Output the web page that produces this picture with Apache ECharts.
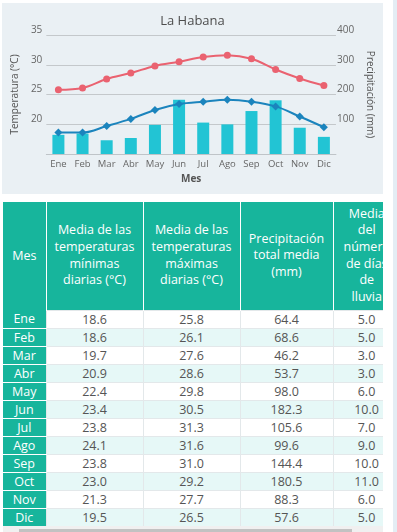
<!DOCTYPE html>
<html>
<head>
<meta charset="utf-8">
<script src="https://cdn.jsdelivr.net/npm/echarts@6/dist/echarts.min.js"></script>
<style>
  html, body { margin: 0; padding: 0; background: #ffffff; width: 397px; height: 532px; overflow: hidden; font-family: "Open Sans", sans-serif; }
  #chart { position: absolute; left: 2px; top: 3px; width: 381px; height: 191px; background: #eaf0f4; }
  #wrap { position: absolute; left: 3px; top: 202px; width: 380px; height: 324px; overflow: hidden; }
  table { border-collapse: collapse; table-layout: fixed; width: 397px; }
  th { background: #17b59c; color: #ffffff; font-weight: normal; font-size: 12.5px; line-height: 16.7px; padding: 3px 2px; border-left: 1px solid #ffffff; height: 108px; box-sizing: border-box; white-space: nowrap; }
  th:first-child { border-left: none; }
  td { font-size: 12.5px; line-height: 17px; height: 18px; padding: 0; text-align: center; color: #555; border: 1px solid #e3e8ea; box-sizing: border-box; }
  td.m { background: #17b59c; color: #fff; border: none; border-bottom: 1px solid #fff; }
  tr.odd td.v { background: #ffffff; }
  tr.even td.v { background: #e6f8f7; }
  #track { position: absolute; left: 3px; top: 526px; width: 380px; height: 6px; background: #f0f0f0; }
  #thumb { position: absolute; left: 19px; top: 529px; width: 333px; height: 3px; background: #c2c2c2; }
  #strip { position: absolute; left: 393px; top: 0; width: 4px; height: 532px; background: #e4edf4; }
</style>
</head>
<body>
<div id="chart"></div>
<div id="wrap"><table id="tbl"></table></div>
<div id="track"></div>
<div id="thumb"></div>
<div id="strip"></div>
<script>
const months = ['Ene','Feb','Mar','Abr','May','Jun','Jul','Ago','Sep','Oct','Nov','Dic'];
const minTemp = [18.6,18.6,19.7,20.9,22.4,23.4,23.8,24.1,23.8,23.0,21.3,19.5];
const maxTemp = [25.8,26.1,27.6,28.6,29.8,30.5,31.3,31.6,31.0,29.2,27.7,26.5];
const precip = [64.4,68.6,46.2,53.7,98.0,182.3,105.6,99.6,144.4,180.5,88.3,57.6];
const rainDays = [5.0,5.0,3.0,3.0,6.0,10.0,7.0,9.0,10.0,11.0,6.0,5.0];
const headers = [
  ['Mes'],
  ['Media de las','temperaturas','mínimas','diarias (°C)'],
  ['Media de las','temperaturas','máximas','diarias (°C)'],
  ['Precipitación','total media','(mm)'],
  ['Media','del','número','de días','de','lluvia']
];
const colWidths = [43, 97, 97, 93, 67];

// Table
const tbl = document.getElementById('tbl');
const cg = document.createElement('colgroup');
colWidths.forEach(w => { const c = document.createElement('col'); c.style.width = w + 'px'; cg.appendChild(c); });
tbl.appendChild(cg);
const hr = document.createElement('tr');
headers.forEach(h => { const th = document.createElement('th'); th.innerHTML = h.join('<br>'); hr.appendChild(th); });
tbl.appendChild(hr);
months.forEach((m, i) => {
  const tr = document.createElement('tr');
  tr.className = i % 2 === 0 ? 'odd' : 'even';
  const cells = [m, minTemp[i].toFixed(1), maxTemp[i].toFixed(1), precip[i].toFixed(1), rainDays[i].toFixed(1)];
  cells.forEach((v, j) => {
    const td = document.createElement('td');
    td.textContent = v;
    td.className = j === 0 ? 'm' : 'v';
    tr.appendChild(td);
  });
  tbl.appendChild(tr);
});

// Chart
const font = '"Open Sans", sans-serif';
const chart = echarts.init(document.getElementById('chart'), null, { renderer: 'canvas' });
chart.setOption({
  backgroundColor: '#eaf0f4',
  animation: false,
  title: {
    text: 'La Habana', left: 'center', top: 7,
    textStyle: { fontSize: 13, fontWeight: 'normal', color: '#4d4d4d', fontFamily: font }
  },
  grid: { left: 29, right: 31, top: 32, bottom: 40 },
  xAxis: {
    type: 'category', data: months,
    name: 'Mes', nameLocation: 'middle', nameGap: 17,
    nameTextStyle: { fontSize: 10, fontWeight: 'bold', color: '#555', fontFamily: font },
    axisLine: { lineStyle: { color: '#bfc4c8', width: 1 } },
    axisTick: { length: 5, lineStyle: { color: '#bfc4c8' } },
    axisLabel: { interval: 0, fontSize: 9.5, color: '#666', margin: 5, fontFamily: font }
  },
  yAxis: [
    {
      type: 'value', min: 15, max: 35, interval: 5,
      name: 'Temperatura (°C)', nameLocation: 'middle', nameGap: 17,
      nameTextStyle: { fontSize: 10, color: '#555', fontFamily: font },
      axisLine: { show: false }, axisTick: { show: false },
      axisLabel: { showMinLabel: false, fontSize: 10, color: '#666', margin: 4, verticalAlign: 'bottom', fontFamily: font },
      splitLine: { lineStyle: { color: '#c4c8cb', width: 1 } }
    },
    {
      type: 'value', min: 0, max: 400, interval: 100, position: 'right',
      name: 'Precipitación (mm)', nameLocation: 'middle', nameGap: 23, nameRotate: -90,
      nameTextStyle: { fontSize: 10, color: '#555', fontFamily: font },
      axisLine: { show: false }, axisTick: { show: false },
      axisLabel: { showMinLabel: false, fontSize: 10, color: '#666', margin: 1, verticalAlign: 'bottom', fontFamily: font },
      splitLine: { show: false }
    }
  ],
  series: [
    {
      name: 'Precipitación', type: 'bar', yAxisIndex: 1, data: precip, barWidth: 12,
      itemStyle: { color: '#22c4d4' }, z: 1
    },
    {
      name: 'Mínima', type: 'line', yAxisIndex: 0, data: minTemp, smooth: 0.35,
      symbol: 'diamond', symbolSize: 8, showAllSymbol: true,
      lineStyle: { color: '#1b84bd', width: 2 }, itemStyle: { color: '#1b84bd' }, z: 3
    },
    {
      name: 'Máxima', type: 'line', yAxisIndex: 0, data: maxTemp, smooth: 0.35,
      symbol: 'circle', symbolSize: 7, showAllSymbol: true,
      lineStyle: { color: '#ea6270', width: 2 }, itemStyle: { color: '#ea6270' }, z: 3
    }
  ]
});
</script>
</body>
</html>
